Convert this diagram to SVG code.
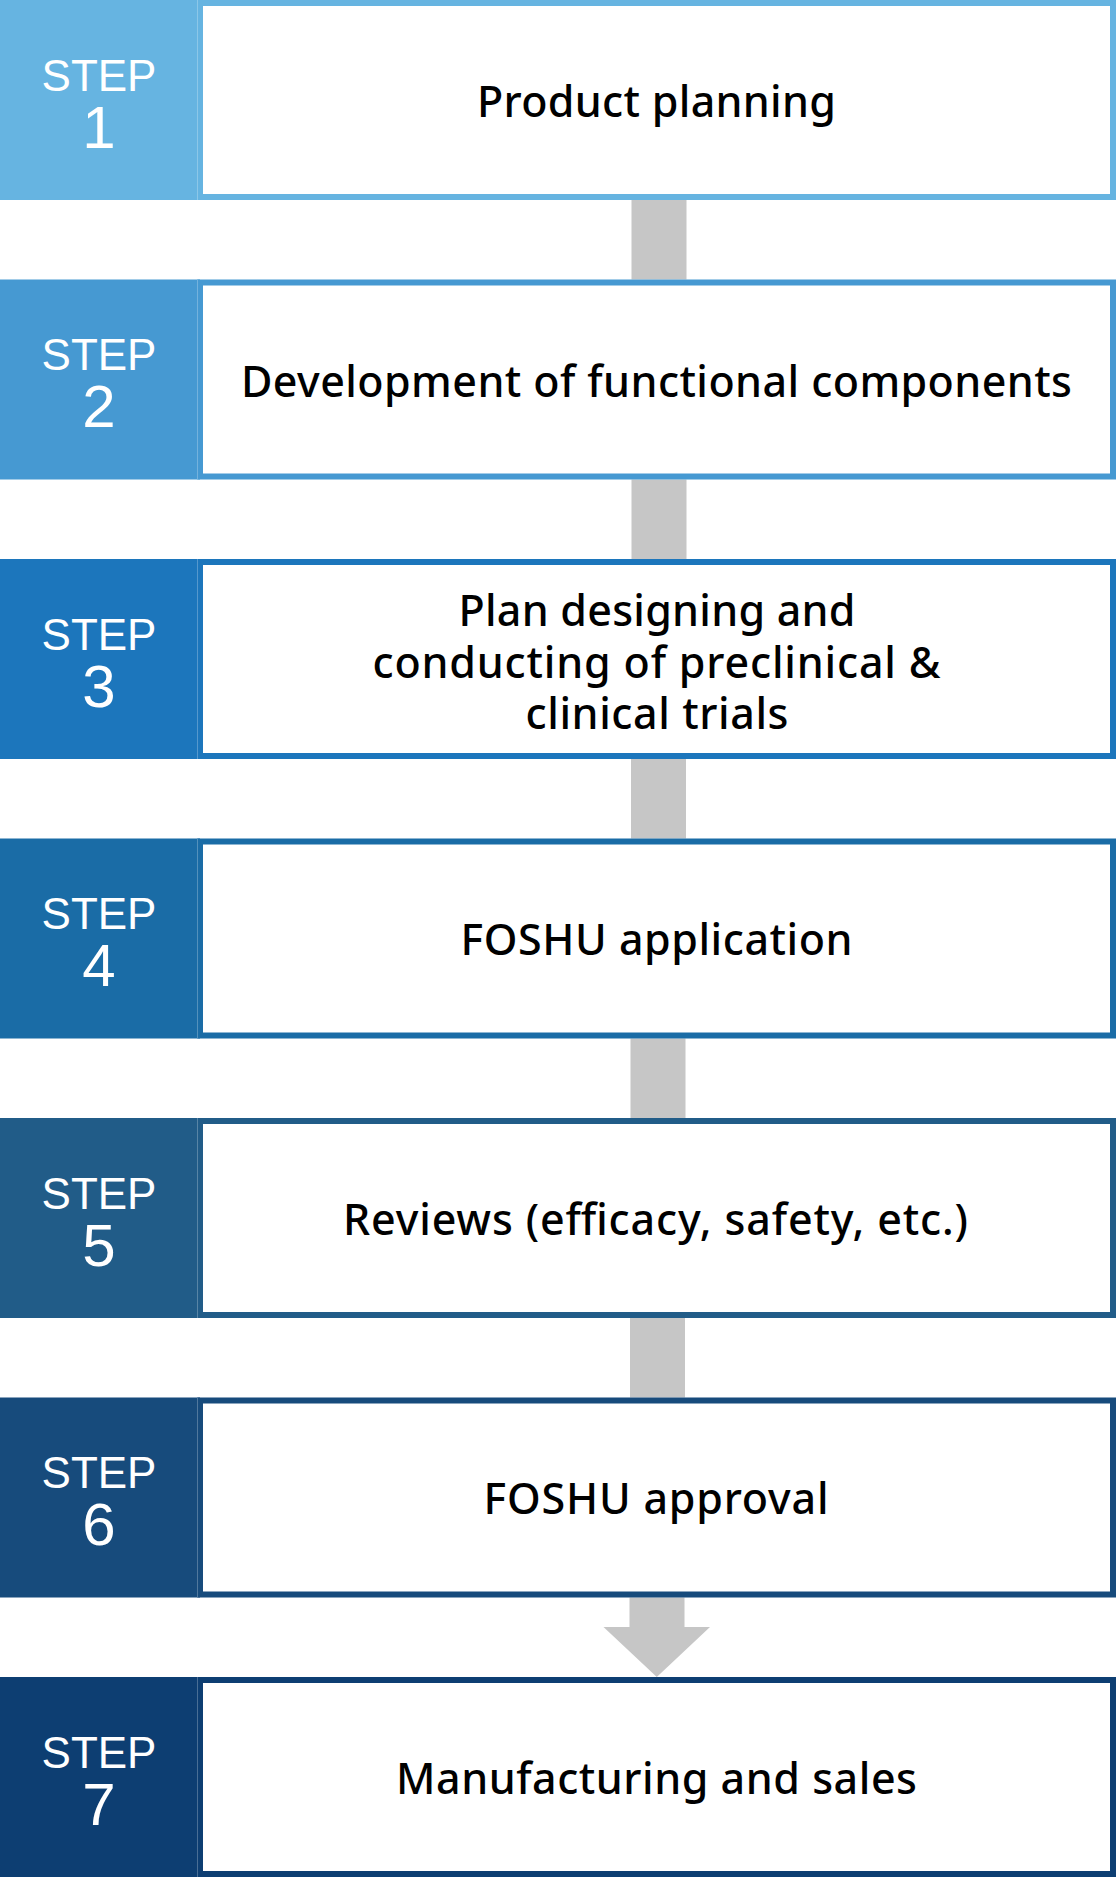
<svg xmlns="http://www.w3.org/2000/svg" width="1116" height="1877" viewBox="0 0 1116 1877">
<style>
.lab{font-family:"Liberation Sans",Arial,sans-serif;fill:#fff;text-anchor:middle}
.st{font-size:44px}
.num{font-size:60px}
.txt{font-family:"Noto Sans","Liberation Sans",sans-serif;font-weight:500;font-size:43px;fill:#000;text-anchor:middle}
.box{fill:#fff;stroke-width:6}
.sep{stroke:#fff;stroke-opacity:0.25;stroke-width:1}
.conn{fill:#c6c6c6}
</style>
<rect width="1116" height="1877" fill="#fff"/>
<g id="connectors">
<rect class="conn" x="631.5" y="200" width="55" height="79.5"/>
<rect class="conn" x="631.5" y="479.5" width="55" height="79.5"/>
<rect class="conn" x="631" y="759" width="55" height="79.5"/>
<rect class="conn" x="630.5" y="1038.5" width="55" height="79.5"/>
<rect class="conn" x="630" y="1318" width="55" height="79.5"/>
<polygon class="conn" points="629.5,1597.5 684.5,1597.5 684.5,1627 710,1627 656.8,1677 603.5,1627 629.5,1627"/>
</g>
<g id="step1">
<rect x="0" y="0" width="200" height="200" fill="#66b4e1"/>
<rect class="box" x="200" y="3" width="913" height="194" stroke="#66b4e1"/>
<line class="sep" x1="197.5" y1="0" x2="197.5" y2="200"/>
<text class="lab st" x="99" y="90.5">STEP</text>
<text class="lab num" x="99" y="147.5">1</text>
<text class="txt" x="656.5" y="116.5" textLength="359" lengthAdjust="spacing">Product planning</text>
</g>
<g id="step2">
<rect x="0" y="279.5" width="200" height="200" fill="#4699d2"/>
<rect class="box" x="200" y="282.5" width="913" height="194" stroke="#4699d2"/>
<line class="sep" x1="197.5" y1="279.5" x2="197.5" y2="479.5"/>
<text class="lab st" x="99" y="370">STEP</text>
<text class="lab num" x="99" y="427">2</text>
<text class="txt" x="656.5" y="397" textLength="831" lengthAdjust="spacing">Development of functional components</text>
</g>
<g id="step3">
<rect x="0" y="559" width="200" height="200" fill="#1c76bc"/>
<rect class="box" x="200" y="562" width="913" height="194" stroke="#1c76bc"/>
<line class="sep" x1="197.5" y1="559" x2="197.5" y2="759"/>
<text class="lab st" x="99" y="649.5">STEP</text>
<text class="lab num" x="99" y="706.5">3</text>
<text class="txt"><tspan x="657" y="626" textLength="397" lengthAdjust="spacing">Plan designing and</tspan><tspan x="656.5" y="677.5" textLength="568" lengthAdjust="spacing">conducting of preclinical &amp;</tspan><tspan x="657" y="729" textLength="263" lengthAdjust="spacing">clinical trials</tspan></text>
</g>
<g id="step4">
<rect x="0" y="838.5" width="200" height="200" fill="#1a6ca6"/>
<rect class="box" x="200" y="841.5" width="913" height="194" stroke="#1a6ca6"/>
<line class="sep" x1="197.5" y1="838.5" x2="197.5" y2="1038.5"/>
<text class="lab st" x="99" y="929">STEP</text>
<text class="lab num" x="99" y="986">4</text>
<text class="txt" x="656.5" y="955" textLength="392" lengthAdjust="spacing">FOSHU application</text>
</g>
<g id="step5">
<rect x="0" y="1118" width="200" height="200" fill="#215c88"/>
<rect class="box" x="200" y="1121" width="913" height="194" stroke="#215c88"/>
<line class="sep" x1="197.5" y1="1118" x2="197.5" y2="1318"/>
<text class="lab st" x="99" y="1208.5">STEP</text>
<text class="lab num" x="99" y="1265.5">5</text>
<text class="txt" x="655.5" y="1234.5" textLength="625" lengthAdjust="spacing">Reviews (efficacy, safety, etc.)</text>
</g>
<g id="step6">
<rect x="0" y="1397.5" width="200" height="200" fill="#174b7c"/>
<rect class="box" x="200" y="1400.5" width="913" height="194" stroke="#174b7c"/>
<line class="sep" x1="197.5" y1="1397.5" x2="197.5" y2="1597.5"/>
<text class="lab st" x="99" y="1488">STEP</text>
<text class="lab num" x="99" y="1545">6</text>
<text class="txt" x="656" y="1514" textLength="345" lengthAdjust="spacing">FOSHU approval</text>
</g>
<g id="step7">
<rect x="0" y="1677" width="200" height="200" fill="#0d3e72"/>
<rect class="box" x="200" y="1680" width="913" height="194" stroke="#0d3e72"/>
<line class="sep" x1="197.5" y1="1677" x2="197.5" y2="1877"/>
<text class="lab st" x="99" y="1767.5">STEP</text>
<text class="lab num" x="99" y="1824.5">7</text>
<text class="txt" x="656.5" y="1793.5" textLength="521" lengthAdjust="spacing">Manufacturing and sales</text>
</g>
</svg>
